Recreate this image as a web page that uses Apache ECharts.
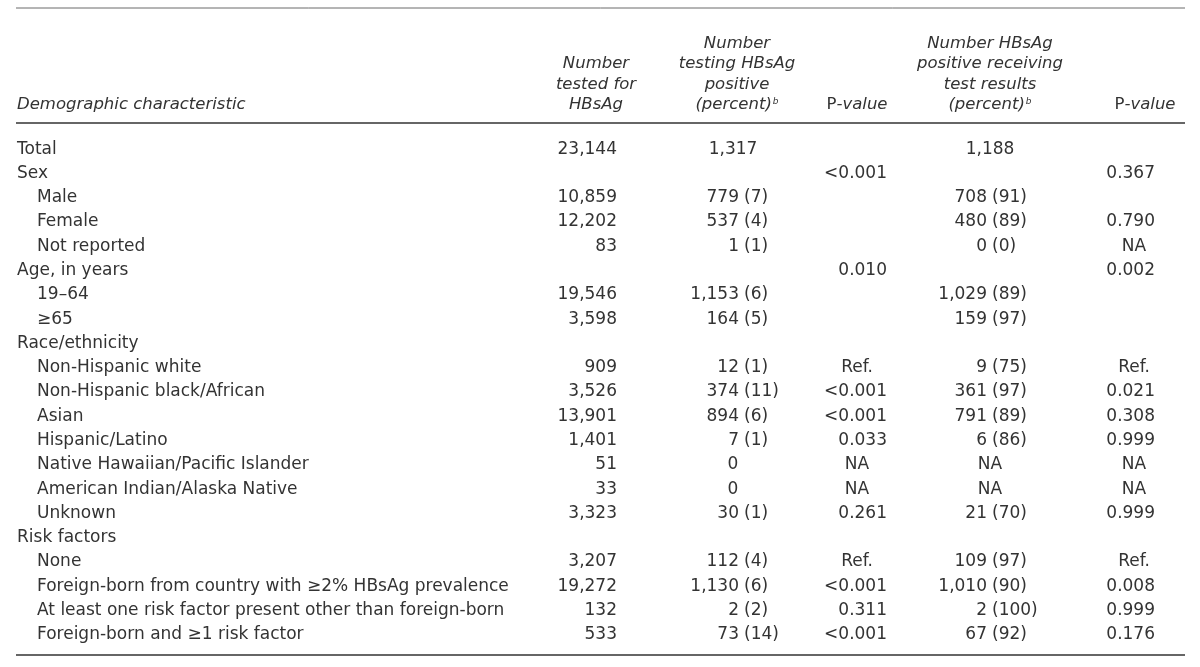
<!DOCTYPE html>
<html>
<head>
<meta charset="utf-8">
<script src="https://cdn.jsdelivr.net/npm/echarts@6/dist/echarts.min.js"></script>
<style>
html,body{margin:0;padding:0;background:#fff;}
#chart{width:1200px;height:667px;}
</style>
</head>
<body>
<div id="chart"></div>
<script>
// ---- table content ----
const rowLabels = [
  'Total','Sex','Male','Female','Not reported','Age, in years','19–64','≥65',
  'Race/ethnicity','Non-Hispanic white','Non-Hispanic black/African','Asian','Hispanic/Latino',
  'Native Hawaiian/Pacific Islander','American Indian/Alaska Native','Unknown',
  'Risk factors','None','Foreign-born from country with ≥2% HBsAg prevalence',
  'At least one risk factor present other than foreign-born','Foreign-born and ≥1 risk factor'
];
const rowIndent = [0,0,1,1,1,0,1,1,0,1,1,1,1,1,1,1,0,1,1,1,1];
const testedN = ['23,144','','10,859','12,202','83','','19,546','3,598','','909','3,526','13,901','1,401','51','33','3,323','','3,207','19,272','132','533'];
const positiveN = ['1,317','','779','537','1','','1,153','164','','12','374','894','7','0','0','30','','112','1,130','2','73'];
const positivePct = ['','','7','4','1','','6','5','','1','11','6','1','','','1','','4','6','2','14'];
const pValue1 = ['','<0.001','','','','0.010','','','','Ref.','<0.001','<0.001','0.033','NA','NA','0.261','','Ref.','<0.001','0.311','<0.001'];
const receivedN = ['1,188','','708','480','0','','1,029','159','','9','361','791','6','NA','NA','21','','109','1,010','2','67'];
const receivedPct = ['','','91','89','0','','89','97','','75','97','89','86','','','70','','97','90','100','92'];
const pValue2 = ['','0.367','','0.790','NA','0.002','','','','Ref.','0.021','0.308','0.999','NA','NA','0.999','','Ref.','0.008','0.999','0.176'];

const headerCols = [
  ['Demographic characteristic'],
  ['Number','tested for','HBsAg'],
  ['Number','testing HBsAg','positive','(percent){sup|b}'],
  ['{r|P}{i|-value}'],
  ['Number HBsAg','positive receiving','test results','(percent){sup|b}'],
  ['{r|P}{i|-value}']
];

// ---- layout (pixels) ----
const FONT = '"DejaVu Sans", "Open Sans", sans-serif';
const FS = 17;
const HFS = 16.5;
const COLOR = '#333333';
const X = {
  label: 17, indent: 20,
  c2Right: 617,
  c3Split: 742, c3Center: 733,
  c4Right: 887, c4Center: 857,
  c5Split: 990, c5Center: 990,
  c6Right: 1155, c6Center: 1134
};
const headerCenter = [null, 596, 737, 857, 990, 1145];
const headerBaseY = 105, headerStep = 20.5;
const ruleL = 16, ruleR = 1185;

const chart = echarts.init(document.getElementById('chart'));

function txt(x, y, text, align) {
  return {
    type: 'text',
    style: {
      text: text, x: x, y: y, align: align, verticalAlign: 'middle',
      font: FS + 'px ' + FONT, fill: COLOR
    }
  };
}

function splitCell(y, n, pct, split, center) {
  const out = [];
  if (!n) return out;
  if (pct === '') {
    out.push(txt(center, y, n, 'center'));
  } else {
    out.push(txt(split - 3, y, n, 'right'));
    out.push(txt(split + 2, y, '(' + pct + ')', 'left'));
  }
  return out;
}

function pCell(y, v, right, center) {
  if (!v) return [];
  if (v === 'NA' || v === 'Ref.') return [txt(center, y, v, 'center')];
  return [txt(right, y, v, 'right')];
}

function renderRow(params, api) {
  const i = params.dataIndex;
  const y = api.coord([0, api.value(1)])[1];
  let children = [];
  children.push(txt(X.label + (rowIndent[i] ? X.indent : 0), y, rowLabels[i], 'left'));
  if (testedN[i]) children.push(txt(X.c2Right, y, testedN[i], 'right'));
  children = children.concat(splitCell(y, positiveN[i], positivePct[i], X.c3Split, X.c3Center));
  children = children.concat(pCell(y, pValue1[i], X.c4Right, X.c4Center));
  children = children.concat(splitCell(y, receivedN[i], receivedPct[i], X.c5Split, X.c5Center));
  children = children.concat(pCell(y, pValue2[i], X.c6Right, X.c6Center));
  return { type: 'group', children: children };
}

// header graphics
const graphics = [];
const richH = {
  sup: { fontSize: 9, fontStyle: 'italic', fontFamily: FONT, fill: COLOR, padding: [0, 0, 7, 1] },
  r: { fontStyle: 'normal', fontSize: HFS, fontFamily: FONT, fill: COLOR },
  i: { fontStyle: 'italic', fontSize: HFS, fontFamily: FONT, fill: COLOR }
};
headerCols.forEach((lines, c) => {
  const n = lines.length;
  lines.forEach((t, k) => {
    const y = headerBaseY - (n - 1 - k) * headerStep;
    graphics.push({
      type: 'text',
      style: {
        text: t, x: c === 0 ? X.label : headerCenter[c], y: y,
        align: c === 0 ? 'left' : 'center', verticalAlign: 'middle',
        font: 'italic ' + HFS + 'px ' + FONT, fill: COLOR, rich: richH
      }
    });
  });
});
[[8, 1, '#6b6b6b'], [123, 1.6, '#333'], [655, 1.6, '#333']].forEach(r => {
  graphics.push({
    type: 'line',
    shape: { x1: ruleL, y1: r[0], x2: ruleR, y2: r[0] },
    style: { stroke: r[2], lineWidth: r[1] }
  });
});

chart.setOption({
  animation: false,
  grid: { left: 0, right: 0, top: 137, height: 510 },
  xAxis: { type: 'value', min: 0, max: 1200, show: false },
  yAxis: { type: 'category', inverse: true, data: rowLabels, show: false },
  graphic: graphics,
  series: [{
    type: 'custom',
    renderItem: renderRow,
    encode: { x: 0, y: 1 },
    data: rowLabels.map((_, i) => [0, i]),
    silent: true
  }]
});
</script>
</body>
</html>
